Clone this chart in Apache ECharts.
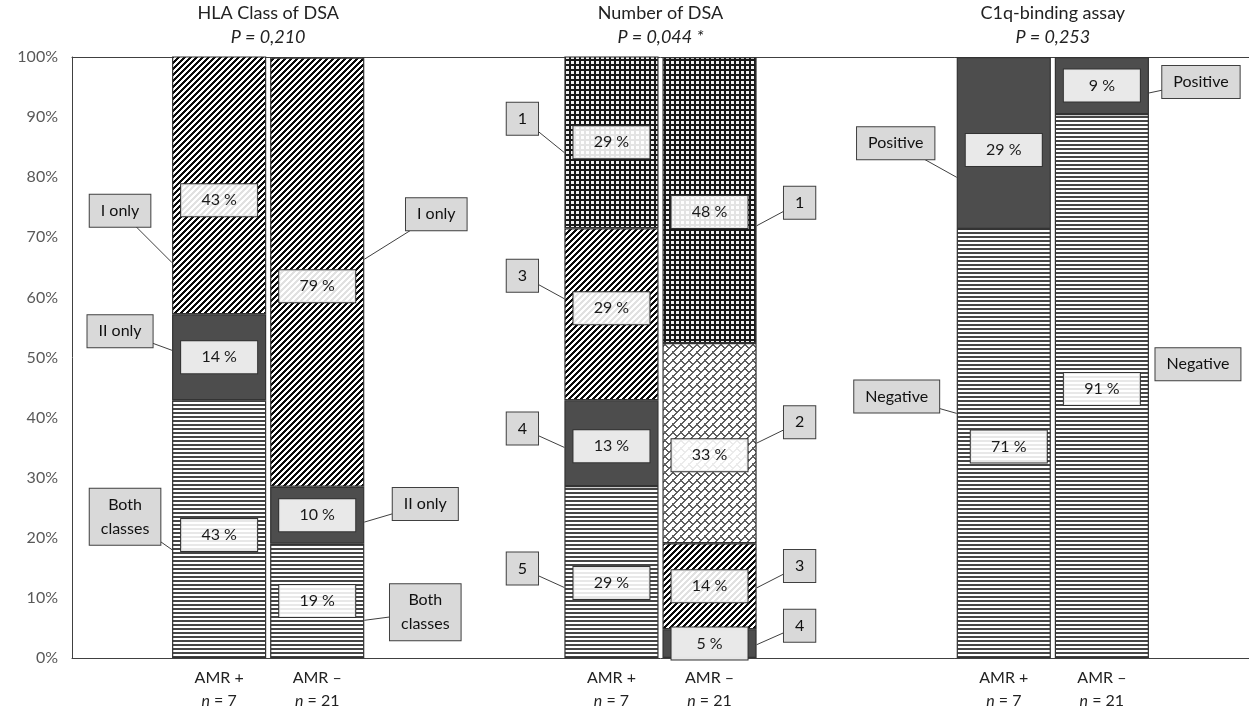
<!DOCTYPE html>
<html>
<head>
<meta charset="utf-8">
<script src="https://cdn.jsdelivr.net/npm/echarts@6/dist/echarts.min.js"></script>
<style>
  html, body { margin: 0; padding: 0; background: #fff; }
  #chart { width: 1249px; height: 709px; }
</style>
</head>
<body>
<div id="chart"></div>
<script>
// ---- data ----
const panelTitles = ['HLA Class of DSA', 'Number of DSA', 'C1q-binding assay'];
const panelP = ['P = 0,210', 'P = 0,044 *', 'P = 0,253'];
const groupNames = ['AMR +', 'AMR –'];
const groupN = [7, 21];
const yTicks = [0, 10, 20, 30, 40, 50, 60, 70, 80, 90, 100];

// segments listed bottom -> top
const hlaSegments = ['Both classes', 'II only', 'I only'];
const hlaAmrPos = [42.9, 14.3, 42.9];
const hlaAmrNeg = [19.0, 9.5, 71.4];
const hlaAmrPosText = ['43 %', '14 %', '43 %'];
const hlaAmrNegText = ['19 %', '10 %', '79 %'];

const dsaAmrPosSegments = ['5', '4', '3', '1'];
const dsaAmrPos = [28.6, 14.3, 28.6, 28.6];
const dsaAmrPosText = ['29 %', '13 %', '29 %', '29 %'];
const dsaAmrNegSegments = ['4', '3', '2', '1'];
const dsaAmrNeg = [4.8, 14.3, 33.3, 47.6];
const dsaAmrNegText = ['5 %', '14 %', '33 %', '48 %'];

const c1qSegments = ['Negative', 'Positive'];
const c1qAmrPos = [71.4, 28.6];
const c1qAmrNeg = [90.5, 9.5];
const c1qAmrPosText = ['71 %', '29 %'];
const c1qAmrNegText = ['91 %', '9 %'];

// ---- layout / style ----
// 4 category slots per panel: spacer, AMR+, AMR-, spacer
const categories = [];
for (let p = 0; p < 3; p++) {
  categories.push('gap' + p + 'a', groupNames[0] + '|' + groupN[0], groupNames[1] + '|' + groupN[1], 'gap' + p + 'b');
}

const bars = [
  {cat: 1, names: hlaSegments, values: hlaAmrPos, texts: hlaAmrPosText, side: 'left'},
  {cat: 2, names: hlaSegments, values: hlaAmrNeg, texts: hlaAmrNegText, side: 'right'},
  {cat: 5, names: dsaAmrPosSegments, values: dsaAmrPos, texts: dsaAmrPosText, side: 'left'},
  {cat: 6, names: dsaAmrNegSegments, values: dsaAmrNeg, texts: dsaAmrNegText, side: 'right'},
  {cat: 9, names: c1qSegments, values: c1qAmrPos, texts: c1qAmrPosText, side: 'left'},
  {cat: 10, names: c1qSegments, values: c1qAmrNeg, texts: c1qAmrNegText, side: 'right'}
];

const fillOf = {
  'Both classes': 'hlines', 'II only': 'dark', 'I only': 'diag',
  '5': 'hlines', '4': 'dark', '3': 'diag', '2': 'brick', '1': 'grid',
  'Negative': 'hlines', 'Positive': 'dark'
};

// nudges of the value boxes [dx, dy] per bar, per segment
const labelNudge = [
  [[0, 6], [0, 0], [0, 15]],
  [[0, 0], [0, 0], [0, 14]],
  [[0, 11], [0, 3], [0, -6], [0, 0]],
  [[0, 0], [0, 0], [0, 12], [0, 12]],
  [[5, 3], [0, 7]],
  [[0, 3], [0, 0]]
];

// callouts: [fraction up the segment where the leader hits the bar, box dx, box dy, hasLine]
const calloutLayout = [
  [[0.42, -47, -33, 1], [0.58, -52, -19, 1], [0.2, -52, -52, 1]],
  [[0.33, 61, -8, 1], [0.38, 61, -18, 1], [0.53, 72, -45, 1]],
  [[0.41, -42, -19, 1], [0.45, -42, -19, 1], [0.59, -42, -23, 1], [0.44, -42, -34, 1]],
  [[0.46, 43, -19, 1], [0.48, 43, -22, 1], [0.5, 43, -21, 1], [0.41, 43, -23, 1]],
  [[0.57, -60, -17, 1], [0.3, -61, -34, 1]],
  [[0.54, 49, 0, 0], [0.37, 52, -11, 1]]
];

const FONT = 'Lato, "Open Sans", sans-serif';

// pixel tiles: fn(x, y) -> grey level
function tile(w, h, fn) {
  const c = document.createElement('canvas');
  c.width = w; c.height = h;
  const ctx = c.getContext('2d');
  const img = ctx.createImageData(w, h);
  for (let y = 0; y < h; y++) {
    for (let x = 0; x < w; x++) {
      const g = fn(x, y);
      const i = (y * w + x) * 4;
      img.data[i] = img.data[i + 1] = img.data[i + 2] = g;
      img.data[i + 3] = 255;
    }
  }
  ctx.putImageData(img, 0, 0);
  return {image: c, repeat: 'repeat'};
}

const patterns = {
  hlines: tile(4, 4, (x, y) => (y < 2 ? 70 : 255)),
  diag: tile(6, 6, (x, y) => ((x + y) % 6 < 3 ? 10 : 255)),
  grid: tile(5, 5, (x, y) => (x >= 1 && x <= 3 && y >= 1 && y <= 3 ? 240 : 25)),
  brick: tile(8, 8, (x, y) => {
    const d = (x + y) % 8;           // '/' mortar lines
    const e = (x - y + 8) % 8;       // '\' brick ends
    if (d <= 1) return 95;
    if (e <= 1 && (x + y) % 16 < 8) return 95;
    return 255;
  }),
  dark: '#4d4d4d'
};

// ---- series ----
const levels = Math.max(...bars.map(b => b.values.length));
const series = [];
for (let lv = 0; lv < levels; lv++) {
  const data = categories.map(() => '-');
  bars.forEach((b, bi) => {
    if (lv >= b.values.length) return;
    const txt = b.texts[lv];
    data[b.cat] = {
      value: b.values[lv],
      itemStyle: {color: patterns[fillOf[b.names[lv]]]},
      label: {formatter: () => txt, offset: labelNudge[bi][lv]}
    };
  });
  series.push({
    type: 'bar',
    stack: 'all',
    barCategoryGap: '4%',
    data: data,
    itemStyle: {borderColor: '#333', borderWidth: 1.2},
    label: {
      show: true,
      position: 'inside',
      fontFamily: FONT,
      fontSize: 16,
      color: '#1a1a1a',
      backgroundColor: 'rgba(255,255,255,0.88)',
      borderColor: '#333',
      borderWidth: 1,
      width: 76,
      padding: [6, 0, 6, 0],
      lineHeight: 20,
      align: 'center'
    },
    emphasis: {disabled: true},
    animation: false
  });
}

const callouts = [];
bars.forEach((b, bi) => {
  let base = 0;
  b.values.forEach((v, si) => {
    const lay = calloutLayout[bi][si];
    callouts.push({
      cat: b.cat,
      at: base + lay[0] * v,
      side: b.side,
      dx: lay[1], dy: lay[2], line: !!lay[3],
      text: b.names[si] === 'Both classes' ? 'Both\nclasses' : b.names[si]
    });
    base += v;
  });
});

series.push({
  type: 'custom',
  z: 5,
  clip: false,
  silent: true,
  animation: false,
  data: callouts.map(c => [c.cat, c.at]),
  renderItem: function (params, api) {
    const c = callouts[params.dataIndex];
    const p = api.coord([api.value(0), api.value(1)]);
    const half = api.size([1, 0])[0] * 0.48;
    const ax = p[0] + (c.side === 'left' ? -half : half);
    const ay = p[1];
    const bx = ax + c.dx, by = ay + c.dy;
    const children = [];
    if (c.line) {
      children.push({
        type: 'line',
        shape: {x1: ax, y1: ay, x2: bx, y2: by},
        style: {stroke: '#404040', lineWidth: 1}
      });
    }
    children.push({
      type: 'text',
      x: bx, y: by,
      style: {
        text: c.text,
        align: 'center', verticalAlign: 'middle',
        textAlign: 'center', textVerticalAlign: 'middle',
        fontFamily: FONT, fontSize: 16, fill: '#111',
        lineHeight: 24,
        backgroundColor: '#d9d9d9',
        borderColor: '#404040', borderWidth: 1,
        padding: [4, 11, 4, 11]
      }
    });
    return {type: 'group', children: children};
  }
});

const chart = echarts.init(document.getElementById('chart'));
chart.setOption({
  backgroundColor: '#fff',
  animation: false,
  grid: {left: 72, right: 0, top: 57, bottom: 51},
  xAxis: [{
    type: 'category',
    data: categories,
    axisLine: {show: true, lineStyle: {color: '#404040', width: 1}},
    axisTick: {show: false},
    axisLabel: {
      interval: 0,
      margin: 8,
      formatter: function (v) {
        if (v.indexOf('gap') === 0) return '';
        const parts = v.split('|');
        return '{a|' + parts[0] + '}\n{i|n}{a| = ' + parts[1] + '}';
      },
      rich: {
        a: {fontFamily: FONT, fontSize: 16, color: '#222', lineHeight: 23},
        i: {fontFamily: FONT, fontSize: 16, color: '#222', lineHeight: 23, fontStyle: 'italic'}
      }
    }
  }, {
    type: 'category',
    position: 'top',
    data: categories,
    axisLine: {show: true, lineStyle: {color: '#404040', width: 1}},
    axisTick: {show: false},
    axisLabel: {show: false}
  }],
  yAxis: {
    type: 'value',
    min: yTicks[0],
    max: yTicks[yTicks.length - 1],
    interval: yTicks[1] - yTicks[0],
    axisLine: {show: true, lineStyle: {color: '#404040', width: 1}},
    axisTick: {show: false},
    splitLine: {show: false},
    axisLabel: {formatter: '{value}%', fontFamily: FONT, fontSize: 16, color: '#595959', margin: 14}
  },
  series: series
});

// panel titles centred over each pair of bars
const titleEls = [];
for (let p = 0; p < 3; p++) {
  const x1 = chart.convertToPixel({xAxisIndex: 0}, p * 4 + 1);
  const x2 = chart.convertToPixel({xAxisIndex: 0}, p * 4 + 2);
  const cx = (x1 + x2) / 2;
  titleEls.push({
    type: 'text', id: 'title' + p, x: cx, y: 13,
    style: {text: panelTitles[p], align: 'center', verticalAlign: 'middle', textAlign: 'center', textVerticalAlign: 'middle',
      fontFamily: FONT, fontSize: 18, fill: '#222'}
  });
  titleEls.push({
    type: 'text', id: 'p' + p, x: cx, y: 37,
    style: {text: panelP[p], align: 'center', verticalAlign: 'middle', textAlign: 'center', textVerticalAlign: 'middle',
      fontFamily: FONT, fontSize: 18, fontStyle: 'italic', fill: '#222'}
  });
}
chart.setOption({graphic: {elements: titleEls}});
</script>
</body>
</html>
